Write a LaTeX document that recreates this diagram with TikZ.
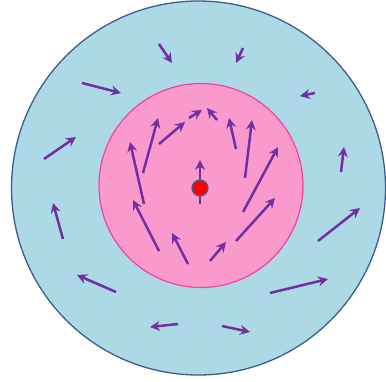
\documentclass[tikz,border=0pt]{standalone}
\usetikzlibrary{arrows.meta}
\definecolor{outerfill}{HTML}{ADD8E6}
\definecolor{outerline}{HTML}{3B5E8C}
\definecolor{innerfill}{HTML}{FA9ACC}
\definecolor{innerline}{HTML}{F2449C}
\definecolor{vec}{HTML}{7030A0}
\begin{document}
\begin{tikzpicture}[x=1pt,y=-1pt,
  vecarrow/.style={draw=vec,line width=2.5pt,-{Stealth[length=10pt,width=10pt,inset=3.5pt]}}]
\useasboundingbox (0,0) rectangle (386,381);
\node[circle,draw=outerline,fill=outerfill,line width=1.3pt,minimum size=374pt,inner sep=0pt] (outer) at (198.5,188) {};
\node[circle,draw=innerline,fill=innerfill,line width=1.2pt,minimum size=204pt,inner sep=0pt] (inner) at (201,185.5) {};
% outer arrows
\draw[vecarrow] (159,44) -- (172,63);
\draw[vecarrow] (243,48) -- (236,63);
\draw[vecarrow] (82,83) -- (121,93);
\draw[vecarrow] (315,93) -- (300,96);
\draw[vecarrow] (44,159) -- (76,137);
\draw[vecarrow] (341,172) -- (344,147);
\draw[vecarrow] (63,239) -- (53,203);
\draw[vecarrow] (318,241) -- (360,208);
\draw[vecarrow] (116,292) -- (77,275);
\draw[vecarrow] (270,293) -- (328,279);
\draw[vecarrow] (178,324) -- (150,327);
\draw[vecarrow] (222,326) -- (250,332);
% inner arrows
\draw[vecarrow] (143,173) -- (158,118);
\draw[vecarrow] (159,144) -- (185,122);
\draw[vecarrow] (189,118) -- (202,110);
\draw[vecarrow] (217,120) -- (207,108);
\draw[vecarrow] (236,149) -- (229,118);
\draw[vecarrow] (245,178) -- (252,120);
\draw[vecarrow] (144,204) -- (130,142);
\draw[vecarrow] (243,212) -- (278,147);
\draw[vecarrow] (159,251) -- (133,200);
\draw[vecarrow] (188,264) -- (172,233);
\draw[vecarrow] (210,261) -- (226,242);
\draw[vecarrow] (236,241) -- (275,198);
\draw[vecarrow] (200,204) -- (200,160);
\node[circle,draw=outerline,fill=red,line width=1.2pt,minimum size=16pt,inner sep=0pt] (charge) at (200,188) {};
\end{tikzpicture}
\end{document}
